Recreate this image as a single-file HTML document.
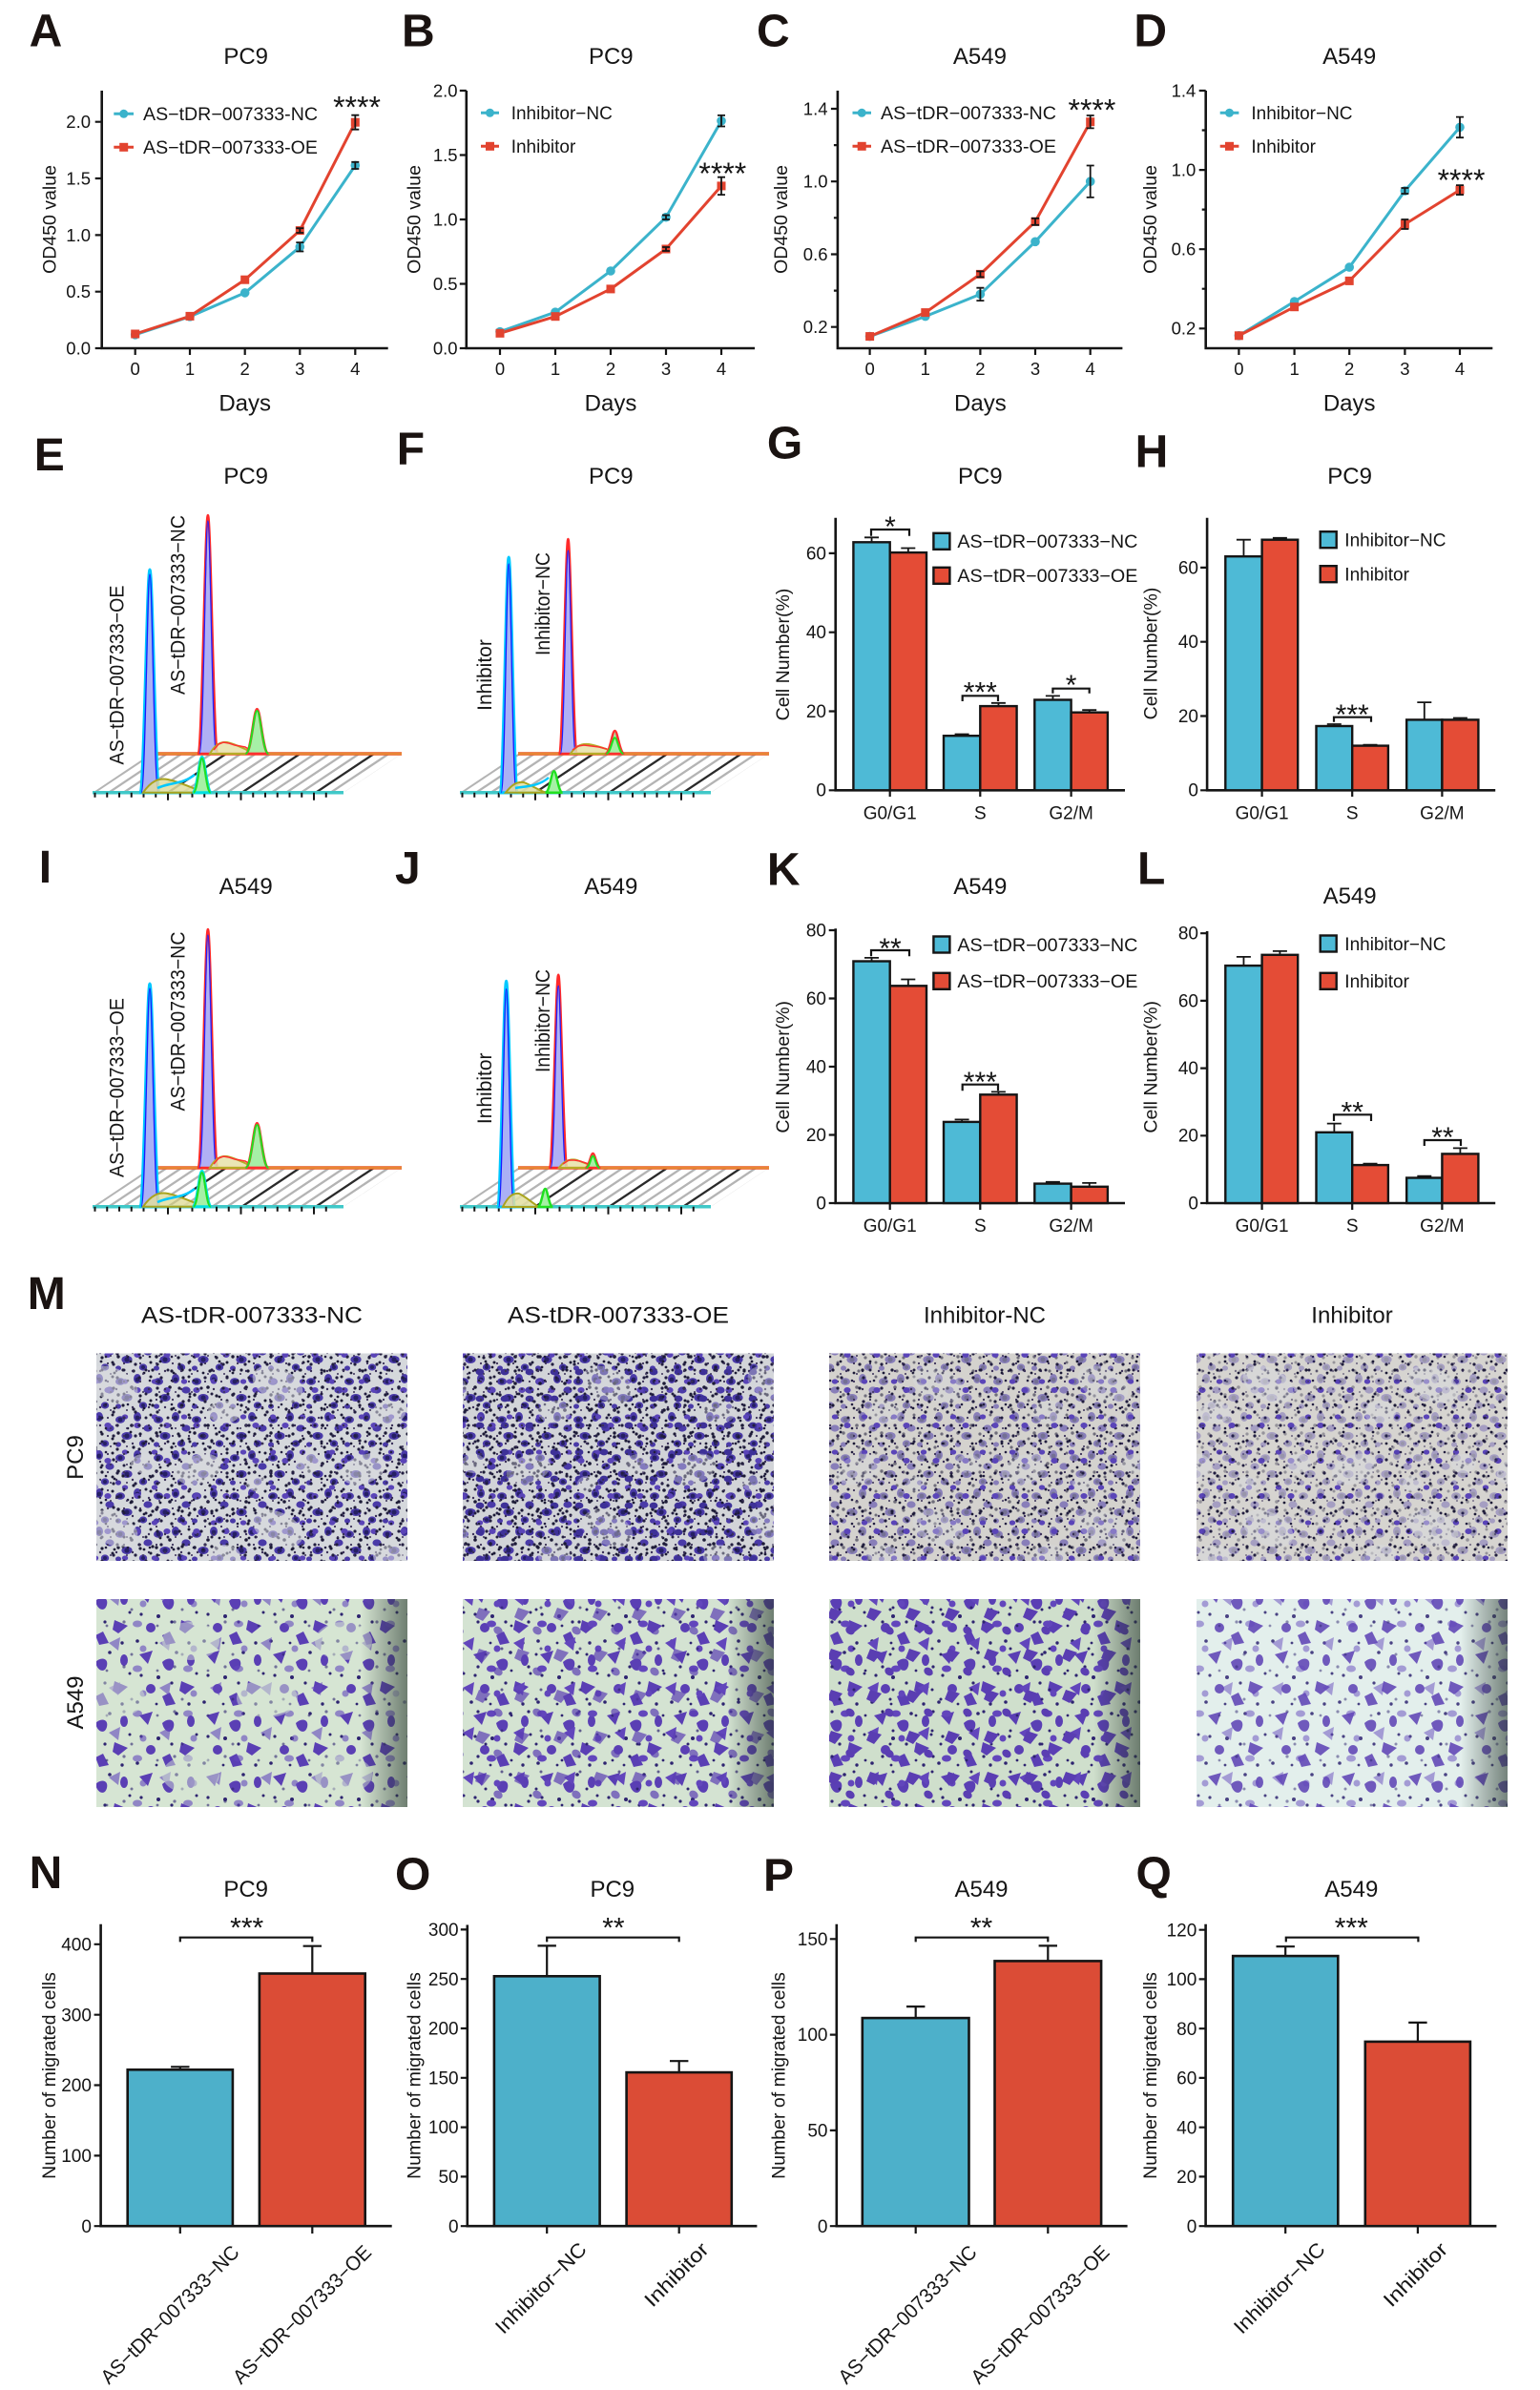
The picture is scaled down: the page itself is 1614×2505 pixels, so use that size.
<!DOCTYPE html>
<html><head><meta charset="utf-8">
<style>
html,body{margin:0;padding:0;background:#fff;}
svg{display:block;}
text{font-family:"Liberation Sans",Arial,sans-serif;fill:#151515;}
.L{font-weight:bold;font-size:48px;fill:#1a1311;}
.T{font-size:24px;}
.k{font-size:18.5px;}
.a{font-size:19.5px;}
.g{font-size:19px;}
.s{font-size:30px;}
.s4{font-size:32px;}
.r{font-size:21px;}
.ax{stroke:#151515;stroke-width:2.6;fill:none;}
.tk{stroke:#151515;stroke-width:2.2;fill:none;}
.eb{stroke:#151515;stroke-width:1.8;fill:none;}
.br{stroke:#151515;stroke-width:2.2;fill:none;}
.cy{fill:#4ebad6;stroke:#151515;stroke-width:2.4;}
.rd{fill:#e44c36;stroke:#151515;stroke-width:2.4;}
.cy2{fill:#4db0ca;stroke:#151515;stroke-width:2.6;}
.rd2{fill:#db4c36;stroke:#151515;stroke-width:2.6;}
.lc{fill:none;stroke:#3bb3cb;stroke-width:3;}
.lr{fill:none;stroke:#e2432f;stroke-width:3;}
</style></head><body>
<svg width="1614" height="2505" viewBox="0 0 1614 2505" xmlns="http://www.w3.org/2000/svg" xmlns:xlink="http://www.w3.org/1999/xlink">
<defs>
<clipPath id="clipE"><polygon points="97,830.7 360,830.7 421,790 158,790"/></clipPath>
<pattern id="p1" width="40" height="40" patternUnits="userSpaceOnUse">
<g fill="#4a3aa8"><ellipse cx="6" cy="8" rx="5" ry="3.8"/><ellipse cx="24" cy="5" rx="4" ry="5"/><ellipse cx="35" cy="17" rx="4.6" ry="3.6"/><ellipse cx="13" cy="25" rx="5.6" ry="4"/><ellipse cx="30" cy="33" rx="4.2" ry="3.6"/><ellipse cx="4" cy="34" rx="3" ry="2.6"/></g>
<g fill="#262064"><circle cx="6" cy="8" r="2.4"/><circle cx="24" cy="6" r="2.4"/><circle cx="13" cy="25" r="2.6"/><circle cx="30" cy="33" r="2"/></g>
<g fill="#1c1a36"><circle cx="18" cy="14" r="1.8"/><circle cx="27" cy="23" r="1.6"/><circle cx="4" cy="22" r="1.7"/><circle cx="38" cy="3" r="1.5"/><circle cx="20" cy="37" r="1.6"/><circle cx="38" cy="28" r="1.5"/></g>
</pattern>
<pattern id="p2" width="31" height="37" patternUnits="userSpaceOnUse">
<g fill="#5a44b8"><ellipse cx="20" cy="14" rx="3.6" ry="3"/><ellipse cx="7" cy="5" rx="3.2" ry="2.6"/></g>
<g fill="#1c1a36"><circle cx="5" cy="30" r="1.6"/><circle cx="27" cy="33" r="1.4"/><circle cx="13" cy="21" r="1.4"/></g>
</pattern>
<pattern id="p3" width="26" height="28" patternUnits="userSpaceOnUse">
<ellipse cx="9" cy="10" rx="4.4" ry="3.4" fill="#3e3198"/><circle cx="20" cy="22" r="1.8" fill="#1c1a36"/><circle cx="22" cy="5" r="1.4" fill="#1c1a36"/>
</pattern>
<pattern id="p4" width="23" height="25" patternUnits="userSpaceOnUse">
<g fill="#221e40"><circle cx="4" cy="5" r="1.6"/><circle cx="15" cy="11" r="1.5"/><circle cx="8" cy="19" r="1.6"/><circle cx="19" cy="22" r="1.3"/></g>
</pattern>
<pattern id="p5" width="17" height="19" patternUnits="userSpaceOnUse">
<g fill="#3a3058"><circle cx="3" cy="12" r="1.2"/><circle cx="11" cy="4" r="1.1"/><circle cx="14" cy="15" r="1"/></g>
</pattern>
<pattern id="cl" width="173" height="151" patternUnits="userSpaceOnUse">
<g fill="#d8dade"><ellipse cx="35" cy="30" rx="24" ry="15" transform="rotate(-20 35 30)"/><ellipse cx="118" cy="92" rx="28" ry="17" transform="rotate(25 118 92)"/><ellipse cx="62" cy="121" rx="17" ry="12"/><ellipse cx="150" cy="24" rx="13" ry="10"/><ellipse cx="96" cy="45" rx="10" ry="8"/></g>
</pattern>
<pattern id="a1" width="70" height="64" patternUnits="userSpaceOnUse">
<g fill="#5a3fb4"><path d="M6,6 L20,2 L15,16 Z"/><path d="M30,14 C36,8 44,10 42,18 C40,26 32,24 30,14Z"/><path d="M50,34 L64,40 L54,48 L48,44Z"/><circle cx="18" cy="42" r="5"/><path d="M30,50 L38,46 L44,58 L34,60Z"/><ellipse cx="60" cy="12" rx="4" ry="6"/></g>
<g fill="#2e2470"><circle cx="45" cy="4" r="1.8"/><circle cx="8" cy="28" r="1.6"/><circle cx="26" cy="30" r="2"/><circle cx="66" cy="26" r="1.5"/><circle cx="40" cy="36" r="1.6"/><circle cx="4" cy="56" r="1.8"/><circle cx="58" cy="58" r="1.7"/><circle cx="24" cy="58" r="1.4"/></g>
</pattern>
<pattern id="a2" width="53" height="47" patternUnits="userSpaceOnUse">
<g fill="#6246bc"><path d="M8,30 L20,24 L18,38 Z"/><ellipse cx="38" cy="10" rx="5" ry="3.5"/><circle cx="44" cy="36" r="3.5"/></g>
<g fill="#2e2470"><circle cx="24" cy="8" r="1.6"/><circle cx="6" cy="12" r="1.4"/><circle cx="32" cy="42" r="1.5"/></g>
</pattern>
<pattern id="a3" width="41" height="43" patternUnits="userSpaceOnUse">
<g fill="#5a3eb2"><path d="M10,8 L22,12 L14,22 L6,18Z"/><ellipse cx="30" cy="32" rx="5" ry="4" transform="rotate(35 30 32)"/></g>
<circle cx="34" cy="8" r="1.5" fill="#2e2470"/>
</pattern>
<pattern id="acl" width="160" height="140" patternUnits="userSpaceOnUse">
<g fill="#d6e5d3"><ellipse cx="40" cy="40" rx="30" ry="20"/><ellipse cx="120" cy="100" rx="32" ry="20"/></g>
</pattern>
<linearGradient id="edge" x1="0" x2="1" y1="0" y2="0"><stop offset="0.85" stop-color="#2a3a30" stop-opacity="0"/><stop offset="1" stop-color="#2a3a30" stop-opacity="0.6"/></linearGradient>

<g id="fb">
 <g clip-path="url(#clipE)">
  <path d="M36.5,830.7l61,-40.7M52,830.7l61,-40.7M67.5,830.7l61,-40.7M83,830.7l61,-40.7M98.5,830.7l61,-40.7M114,830.7l61,-40.7M129.5,830.7l61,-40.7M145,830.7l61,-40.7M160.5,830.7l61,-40.7M191.5,830.7l61,-40.7M207,830.7l61,-40.7M222.5,830.7l61,-40.7M238,830.7l61,-40.7M269,830.7l61,-40.7M284.5,830.7l61,-40.7M300,830.7l61,-40.7M315.5,830.7l61,-40.7M346.5,830.7l61,-40.7M362,830.7l61,-40.7" stroke="#b4b4b4" stroke-width="2.3"/>
  <path d="M176,830.7l61,-40.7M253.5,830.7l61,-40.7M331,830.7l61,-40.7" stroke="#2a2a2a" stroke-width="2.3"/>
 </g>
 <path d="M158,790H421" stroke="#e85a20" stroke-width="3.5"/>
 <path d="M158,790H421" stroke="#e8a040" stroke-width="1.2"/>
 <path d="M97,830.7H360" stroke="#40c8c8" stroke-width="3.5"/>
 <path d="M99.5,830.7v5M112.25,830.7v5M125,830.7v5M137.75,830.7v5M150.5,830.7v5M163.25,830.7v5M176,830.7v8M188.75,830.7v5M201.5,830.7v5M214.25,830.7v5M227,830.7v5M239.75,830.7v5M252.5,830.7v8M265.25,830.7v5M278,830.7v5M290.75,830.7v5M303.5,830.7v5M316.25,830.7v5M329,830.7v8M341.75,830.7v5" stroke="#151515" stroke-width="2"/>
</g>

<g id="eP">
 <path d="M206.9,790C212.4,790 214.6,540 217.9,540C221.2,540 223.4,790 228.9,790Z" fill="#b0b0f5" stroke="#ff2a2a" stroke-width="2.5"/>
 <path d="M208.9,790C213.4,790 215.2,546 217.9,546C220.6,546 222.4,790 226.9,790" fill="none" stroke="#2020ff" stroke-width="1.3"/>
 <path d="M220,790C225,781 231,777 238,778C248,780 258,786 267,790Z" fill="#e6e2a8" fill-opacity="0.85" stroke="#b5ad28" stroke-width="2"/>
 <polyline points="224,786 229,780 234,778 240,779 246,781 252,782 257,783 262,786" fill="none" stroke="#ff3030" stroke-width="1.5"/>
 <path d="M257.4,790C263.4,790 265.8,743.3 269.4,743.3C273,743.3 275.4,790 281.4,790Z" fill="#a6f0a6" stroke="#ff3030" stroke-width="2.8"/>
 <path d="M257.4,790C263.4,790 265.8,745 269.4,745C273,745 275.4,790 281.4,790" fill="none" stroke="#20e020" stroke-width="2"/>
 <path d="M146,830.7C151.5,830.7 153.7,597 157,597C160.3,597 162.5,830.7 168,830.7Z" fill="#aab0f5" stroke="#00c8ff" stroke-width="3"/>
 <path d="M148,830.7C152.5,830.7 154.3,602 157,602C159.7,602 161.5,830.7 166,830.7" fill="none" stroke="#1a1aff" stroke-width="1.3"/>
 <path d="M150,830.7C158,819 166,815 176,817C190,820 204,827 214,830.7Z" fill="#e2dea0" fill-opacity="0.85" stroke="#aaa41e" stroke-width="2"/>
 <path d="M165,826C178,820 192,822 204,812" fill="none" stroke="#00c8ff" stroke-width="2.5"/>
 <path d="M201.7,830.7C206.7,830.7 208.7,793.3 211.7,793.3C214.7,793.3 216.7,830.7 221.7,830.7Z" fill="#a6f0a6" stroke="#00e0e0" stroke-width="3"/>
 <path d="M202.7,830.7C207.2,830.7 209,795 211.7,795C214.4,795 216.2,830.7 220.7,830.7" fill="none" stroke="#20e020" stroke-width="2"/>
</g>
</defs>

<!-- ========== Row 1 ========== -->
<text class="L" x="30.6" y="48.3">A</text>
<text class="L" x="421" y="48.3">B</text>
<text class="L" x="793" y="48.3">C</text>
<text class="L" x="1188.4" y="48.3">D</text>
<text class="T" x="257.7" y="66.9" text-anchor="middle">PC9</text>
<text class="T" x="640.3" y="66.9" text-anchor="middle">PC9</text>
<text class="T" x="1026.9" y="66.9" text-anchor="middle">A549</text>
<text class="T" x="1414.2" y="66.9" text-anchor="middle">A549</text>

<!-- Panel A -->
<path class="ax" d="M106.7,95V365H406.7"/>
<path class="tk" d="M99.7,127.7H106.7M99.7,187H106.7M99.7,246.4H106.7M99.7,305.7H106.7M99.7,365H106.7M141.7,365V372M199,365V372M256.7,365V372M314.3,365V372M372.3,365V372"/>
<g class="k" text-anchor="end"><text x="95" y="134.1">2.0</text><text x="95" y="193.4">1.5</text><text x="95" y="252.8">1.0</text><text x="95" y="312.1">0.5</text><text x="95" y="371.4">0.0</text></g>
<g class="k" text-anchor="middle"><text x="141.7" y="393">0</text><text x="199" y="393">1</text><text x="256.7" y="393">2</text><text x="314.3" y="393">3</text><text x="372.3" y="393">4</text></g>
<text class="T" x="256.7" y="430.3" text-anchor="middle">Days</text>
<text class="a" transform="translate(58.7,230) rotate(-90)" text-anchor="middle">OD450 value</text>
<path d="M119.3,119.3H140" stroke="#3bb3cb" stroke-width="3"/><circle cx="129.7" cy="119.3" r="4.5" fill="#3bb3cb"/>
<text class="g" x="150" y="126.1" textLength="183" lengthAdjust="spacingAndGlyphs">AS−tDR−007333-NC</text>
<path d="M119.3,154.3H140" stroke="#e2432f" stroke-width="3"/><rect x="125.2" y="149.8" width="9" height="9" fill="#e2432f"/>
<text class="g" x="150" y="161.1" textLength="183" lengthAdjust="spacingAndGlyphs">AS−tDR−007333-OE</text>
<polyline class="lc" points="141.7,350.8 199,331.8 256.7,306.9 314.3,258.8 372.3,173.4"/>
<polyline class="lr" points="141.7,350 199,331.4 256.7,293.2 314.3,241.6 372.3,128.2"/>
<g fill="#3bb3cb"><circle cx="141.7" cy="350.8" r="4.8"/><circle cx="199" cy="331.8" r="4.8"/><circle cx="256.7" cy="306.9" r="4.8"/><circle cx="314.3" cy="258.8" r="4.8"/><circle cx="372.3" cy="173.4" r="4.8"/></g>
<g fill="#e2432f"><rect x="137.2" y="345.5" width="9" height="9"/><rect x="194.5" y="326.9" width="9" height="9"/><rect x="252.2" y="288.7" width="9" height="9"/><rect x="309.8" y="237.1" width="9" height="9"/><rect x="367.8" y="123.7" width="9" height="9"/></g>
<path class="eb" d="M314.3,254.1V263.5M310.3,254.1h8M310.3,263.5h8M372.3,169.8V177M368.3,169.8h8M368.3,177h8M372.3,120.7V135.7M368.3,120.7h8M368.3,135.7h8M314.3,239.2V244M310.3,239.2h8M310.3,244h8"/>
<text class="s4" x="374" y="123.3" text-anchor="middle">****</text>

<!-- Panel B -->
<path class="ax" d="M488.8,95V365H791"/>
<path class="tk" d="M481.8,95H488.8M481.8,162.5H488.8M481.8,230H488.8M481.8,297.5H488.8M481.8,365H488.8M524,365V372M582,365V372M640,365V372M698,365V372M756,365V372"/>
<g class="k" text-anchor="end"><text x="479.6" y="101.4">2.0</text><text x="479.6" y="168.9">1.5</text><text x="479.6" y="236.4">1.0</text><text x="479.6" y="303.9">0.5</text><text x="479.6" y="371.4">0.0</text></g>
<g class="k" text-anchor="middle"><text x="524" y="393">0</text><text x="582" y="393">1</text><text x="640" y="393">2</text><text x="698" y="393">3</text><text x="756" y="393">4</text></g>
<text class="T" x="640" y="430.3" text-anchor="middle">Days</text>
<text class="a" transform="translate(440.7,230) rotate(-90)" text-anchor="middle">OD450 value</text>
<path d="M504,118.3H523" stroke="#3bb3cb" stroke-width="3"/><circle cx="513.5" cy="118.3" r="4.5" fill="#3bb3cb"/>
<text class="g" x="535.7" y="125.1">Inhibitor−NC</text>
<path d="M504,153.3H523" stroke="#e2432f" stroke-width="3"/><rect x="509" y="148.8" width="9" height="9" fill="#e2432f"/>
<text class="g" x="535.7" y="160.1">Inhibitor</text>
<polyline class="lc" points="524,347.7 582,327.2 640,284 698,227.7 756,126.7"/>
<polyline class="lr" points="524,349.3 582,331.7 640,302.9 698,261 756,194.9"/>
<g fill="#3bb3cb"><circle cx="524" cy="347.7" r="4.8"/><circle cx="582" cy="327.2" r="4.8"/><circle cx="640" cy="284" r="4.8"/><circle cx="698" cy="227.7" r="4.8"/><circle cx="756" cy="126.7" r="4.8"/></g>
<g fill="#e2432f"><rect x="519.5" y="344.8" width="9" height="9"/><rect x="577.5" y="327.2" width="9" height="9"/><rect x="635.5" y="298.4" width="9" height="9"/><rect x="693.5" y="256.5" width="9" height="9"/><rect x="751.5" y="190.4" width="9" height="9"/></g>
<path class="eb" d="M756,120.9V132.5M752,120.9h8M752,132.5h8M756,185.7V204.1M752,185.7h8M752,204.1h8M698,259V263M694,259h8M694,263h8M698,225.5V230M694,225.5h8M694,230h8"/>
<text class="s4" x="757.3" y="193.2" text-anchor="middle">****</text>

<!-- Panel C -->
<path class="ax" d="M877.9,95V365H1176.4"/>
<path class="tk" d="M870.9,114H877.9M870.9,190.2H877.9M870.9,266.5H877.9M870.9,342.7H877.9M873.9,152.1H877.9M873.9,228.3H877.9M873.9,304.6H877.9M911.6,365V372M969.8,365V372M1027.4,365V372M1085,365V372M1142.7,365V372"/>
<g class="k" text-anchor="end"><text x="867.5" y="120.4">1.4</text><text x="867.5" y="196.6">1.0</text><text x="867.5" y="272.9">0.6</text><text x="867.5" y="349.1">0.2</text></g>
<g class="k" text-anchor="middle"><text x="911.6" y="393">0</text><text x="969.8" y="393">1</text><text x="1027.4" y="393">2</text><text x="1085" y="393">3</text><text x="1142.7" y="393">4</text></g>
<text class="T" x="1027.4" y="430.3" text-anchor="middle">Days</text>
<text class="a" transform="translate(825,230) rotate(-90)" text-anchor="middle">OD450 value</text>
<path d="M893.5,118.3H913" stroke="#3bb3cb" stroke-width="3"/><circle cx="903.2" cy="118.3" r="4.5" fill="#3bb3cb"/>
<text class="g" x="923" y="125.1" textLength="184" lengthAdjust="spacingAndGlyphs">AS−tDR−007333-NC</text>
<path d="M893.5,153.3H913" stroke="#e2432f" stroke-width="3"/><rect x="898.7" y="148.8" width="9" height="9" fill="#e2432f"/>
<text class="g" x="923" y="160.1" textLength="184" lengthAdjust="spacingAndGlyphs">AS−tDR−007333-OE</text>
<polyline class="lc" points="911.6,352.6 969.8,331.6 1027.4,308.4 1085,253.3 1142.7,190.2"/>
<polyline class="lr" points="911.6,352.6 969.8,327.6 1027.4,287.4 1085,232.3 1142.7,127.7"/>
<g fill="#3bb3cb"><circle cx="911.6" cy="352.6" r="4.8"/><circle cx="969.8" cy="331.6" r="4.8"/><circle cx="1027.4" cy="308.4" r="4.8"/><circle cx="1085" cy="253.3" r="4.8"/><circle cx="1142.7" cy="190.2" r="4.8"/></g>
<g fill="#e2432f"><rect x="907.1" y="348.1" width="9" height="9"/><rect x="965.3" y="323.1" width="9" height="9"/><rect x="1022.9" y="282.9" width="9" height="9"/><rect x="1080.5" y="227.8" width="9" height="9"/><rect x="1138.2" y="123.2" width="9" height="9"/></g>
<path class="eb" d="M1142.7,173.5V206.9M1138.7,173.5h8M1138.7,206.9h8M1027.4,301.7V315.1M1023.4,301.7h8M1023.4,315.1h8M1142.7,121V134.4M1138.7,121h8M1138.7,134.4h8M1085,228.8V235.8M1081,228.8h8M1081,235.8h8M1027.4,284.4V290.4M1023.4,284.4h8M1023.4,290.4h8"/>
<text class="s4" x="1144.4" y="126.5" text-anchor="middle">****</text>

<!-- Panel D -->
<path class="ax" d="M1263.7,95V365H1564.3"/>
<path class="tk" d="M1256.7,95H1263.7M1256.7,178.1H1263.7M1256.7,261.2H1263.7M1256.7,344.3H1263.7M1259.7,136.5H1263.7M1259.7,219.6H1263.7M1259.7,302.7H1263.7M1298.4,365V372M1356.6,365V372M1414.2,365V372M1472.4,365V372M1530,365V372"/>
<g class="k" text-anchor="end"><text x="1253.3" y="101.4">1.4</text><text x="1253.3" y="184.5">1.0</text><text x="1253.3" y="267.6">0.6</text><text x="1253.3" y="350.7">0.2</text></g>
<g class="k" text-anchor="middle"><text x="1298.4" y="393">0</text><text x="1356.6" y="393">1</text><text x="1414.2" y="393">2</text><text x="1472.4" y="393">3</text><text x="1530" y="393">4</text></g>
<text class="T" x="1414.2" y="430.3" text-anchor="middle">Days</text>
<text class="a" transform="translate(1212,230) rotate(-90)" text-anchor="middle">OD450 value</text>
<path d="M1278.7,118.3H1298.4" stroke="#3bb3cb" stroke-width="3"/><circle cx="1288.5" cy="118.3" r="4.5" fill="#3bb3cb"/>
<text class="g" x="1311.4" y="125.1">Inhibitor−NC</text>
<path d="M1278.7,153.3H1298.4" stroke="#e2432f" stroke-width="3"/><rect x="1284" y="148.8" width="9" height="9" fill="#e2432f"/>
<text class="g" x="1311.4" y="160.1">Inhibitor</text>
<polyline class="lc" points="1298.4,351.8 1356.6,316 1414.2,280.1 1472.4,200.1 1530,133.4"/>
<polyline class="lr" points="1298.4,351.8 1356.6,321.7 1414.2,294.4 1472.4,235 1530,199.1"/>
<g fill="#3bb3cb"><circle cx="1298.4" cy="351.8" r="4.8"/><circle cx="1356.6" cy="316" r="4.8"/><circle cx="1414.2" cy="280.1" r="4.8"/><circle cx="1472.4" cy="200.1" r="4.8"/><circle cx="1530" cy="133.4" r="4.8"/></g>
<g fill="#e2432f"><rect x="1293.9" y="347.3" width="9" height="9"/><rect x="1352.1" y="317.2" width="9" height="9"/><rect x="1409.7" y="289.9" width="9" height="9"/><rect x="1467.9" y="230.5" width="9" height="9"/><rect x="1525.5" y="194.6" width="9" height="9"/></g>
<path class="eb" d="M1530,122.6V144.2M1526,122.6h8M1526,144.2h8M1472.4,197V203M1468.4,197h8M1468.4,203h8M1530,194.1V204.1M1526,194.1h8M1526,204.1h8M1472.4,230V240M1468.4,230h8M1468.4,240h8"/>
<text class="s4" x="1531.5" y="199.9" text-anchor="middle">****</text>

<!-- ========== Row 2 ========== -->
<text class="L" x="35.7" y="493">E</text>
<text class="L" x="415.8" y="486.7">F</text>
<text class="L" x="803.9" y="480.5">G</text>
<text class="L" x="1189.6" y="489.3">H</text>
<text class="T" x="257.7" y="506.9" text-anchor="middle">PC9</text>
<text class="T" x="640.3" y="506.9" text-anchor="middle">PC9</text>
<text class="T" x="1027.3" y="506.9" text-anchor="middle">PC9</text>
<text class="T" x="1414.6" y="506.9" text-anchor="middle">PC9</text>

<!-- E -->
<use href="#fb" xlink:href="#fb"/>
<use href="#eP" xlink:href="#eP"/>
<text class="r" transform="translate(129.7,707.5) rotate(-90)" text-anchor="middle" textLength="188" lengthAdjust="spacingAndGlyphs">AS−tDR−007333−OE</text>
<text class="r" transform="translate(193.5,634) rotate(-90)" text-anchor="middle" textLength="188" lengthAdjust="spacingAndGlyphs">AS−tDR−007333−NC</text>

<!-- F -->
<use href="#fb" xlink:href="#fb" transform="translate(385,0)"/>
<path d="M585.4,790C590.4,790 592.4,565 595.4,565C598.4,565 600.4,790 605.4,790Z" fill="#b0b0f5" stroke="#ff2a2a" stroke-width="2.5"/>
<path d="M587.4,790C591.4,790 593,577 595.4,577C597.8,577 599.4,790 603.4,790" fill="none" stroke="#2020ff" stroke-width="1.3"/>
<path d="M598,790C603,782 609,779 617,780C629,782 640,787 650,790Z" fill="#e6e2a8" fill-opacity="0.85" stroke="#b5ad28" stroke-width="2"/>
<polyline points="600,786 606,782 612,781 620,782 628,783 636,785" fill="none" stroke="#ff3030" stroke-width="1.5"/>
<path d="M634.4,790C639.4,790 641.4,766 644.4,766C647.4,766 649.4,790 654.4,790Z" fill="#a6f0a6" stroke="#ff3030" stroke-width="2.5"/>
<path d="M635.4,790C639.9,790 641.7,773.3 644.4,773.3C647.1,773.3 648.9,790 653.4,790" fill="none" stroke="#20e020" stroke-width="2"/>
<path d="M523.2,830.7C528.2,830.7 530.2,584 533.2,584C536.2,584 538.2,830.7 543.2,830.7Z" fill="#aab0f5" stroke="#00c8ff" stroke-width="3"/>
<path d="M525.2,830.7C529.2,830.7 530.8,591 533.2,591C535.6,591 537.2,830.7 541.2,830.7" fill="none" stroke="#1a1aff" stroke-width="1.3"/>
<path d="M530,830.7C536,823 541,819 549,820C557,823 564,828 572,830.7Z" fill="#e2dea0" fill-opacity="0.85" stroke="#aaa41e" stroke-width="2"/>
<path d="M540,826C552,824 565,824 575,815" fill="none" stroke="#00c8ff" stroke-width="2.5"/>
<path d="M571.6,830.7C576.1,830.7 577.9,808.3 580.6,808.3C583.3,808.3 585.1,830.7 589.6,830.7Z" fill="#a6f0a6" stroke="#20e020" stroke-width="2.5"/>
<text class="r" transform="translate(515,707.5) rotate(-90)" text-anchor="middle">Inhibitor</text>
<text class="r" transform="translate(576.2,633) rotate(-90)" text-anchor="middle" textLength="108" lengthAdjust="spacingAndGlyphs">Inhibitor−NC</text>

<!-- G -->
<path class="ax" d="M875.7,542.7V828.3H1179"/>
<path class="tk" d="M868.7,579.9H875.7M868.7,662.7H875.7M868.7,745.5H875.7M868.7,828.3H875.7M932.7,828.3V835M1027.3,828.3V835M1122.6,828.3V835"/>
<g class="g" text-anchor="end"><text x="866" y="586.3">60</text><text x="866" y="669.1">40</text><text x="866" y="751.9">20</text><text x="866" y="834.7">0</text></g>
<rect class="cy" x="894.4" y="568.3" width="38.3" height="260"/>
<rect class="rd" x="932.7" y="579.1" width="38.3" height="249.2"/>
<rect class="cy" x="989" y="771.2" width="38.3" height="57.1"/>
<rect class="rd" x="1027.3" y="740.1" width="38.3" height="88.2"/>
<rect class="cy" x="1084.3" y="733.5" width="38.3" height="94.8"/>
<rect class="rd" x="1122.6" y="746.7" width="38.3" height="81.6"/>
<path class="eb" d="M913.55,568.3V563.3M906,563.3h15M951.85,579.1V574.5M944.3,574.5h15M1008.15,771.2V769.5M1000.6,769.5h15M1046.45,740.1V736.8M1038.9,736.8h15M1103.45,733.5V729.4M1095.9,729.4h15M1141.75,746.7V744.2M1134.2,744.2h15"/>
<path class="br" d="M913,561.7V555H953V561.7M1008.7,735V729.3H1046V735M1103.4,726.7V721.7H1141.7V726.7"/>
<text class="s" x="933" y="562" text-anchor="middle">*</text>
<text class="s" x="1027.3" y="735.4" text-anchor="middle">***</text>
<text class="s" x="1122.6" y="727.8" text-anchor="middle">*</text>
<rect class="cy" x="978.4" y="558.8" width="17" height="17"/>
<rect class="rd" x="978.4" y="594.8" width="17" height="17"/>
<text class="g" x="1003.4" y="574.1" textLength="189" lengthAdjust="spacingAndGlyphs">AS−tDR−007333−NC</text>
<text class="g" x="1003.4" y="610.1" textLength="189" lengthAdjust="spacingAndGlyphs">AS−tDR−007333−OE</text>
<text class="a" transform="translate(826.9,686) rotate(-90)" text-anchor="middle">Cell Number(%)</text>
<g class="g" text-anchor="middle"><text x="932.7" y="858.5">G0/G1</text><text x="1027.3" y="858.5">S</text><text x="1122.6" y="858.5">G2/M</text></g>

<!-- H -->
<path class="ax" d="M1265.1,542.7V828.3H1567.2"/>
<path class="tk" d="M1258.1,594.9H1265.1M1258.1,672.7H1265.1M1258.1,750.5H1265.1M1258.1,828.3H1265.1M1322.6,828.3V835M1417.2,828.3V835M1511.4,828.3V835"/>
<g class="g" text-anchor="end"><text x="1256" y="601.3">60</text><text x="1256" y="679.1">40</text><text x="1256" y="756.9">20</text><text x="1256" y="834.7">0</text></g>
<rect class="cy" x="1284.3" y="583.2" width="38.3" height="245.1"/>
<rect class="rd" x="1322.6" y="565.7" width="37.6" height="262.6"/>
<rect class="cy" x="1379.5" y="761" width="37.7" height="67.3"/>
<rect class="rd" x="1417.2" y="781.6" width="37.7" height="46.7"/>
<rect class="cy" x="1474.2" y="754.4" width="37.2" height="73.9"/>
<rect class="rd" x="1511.4" y="754.4" width="38" height="73.9"/>
<path class="eb" d="M1303.45,583.2V565.7M1295.9,565.7h15M1341.4,565.7V563.8M1333.9,563.8h15M1398.35,761V759M1390.8,759h15M1436,781.6V780.6M1428.5,780.6h15M1492.8,754.4V736.1M1485.3,736.1h15M1530.4,754.4V752.5M1522.9,752.5h15"/>
<path class="br" d="M1398,756.7V751.7H1437V756.7"/>
<text class="s" x="1417.2" y="758.8" text-anchor="middle">***</text>
<rect class="cy" x="1383.7" y="557.2" width="17" height="17"/>
<rect class="rd" x="1383.7" y="593.2" width="17" height="17"/>
<text class="g" x="1409.3" y="572.5">Inhibitor−NC</text>
<text class="g" x="1409.3" y="608.5">Inhibitor</text>
<text class="a" transform="translate(1212.5,685) rotate(-90)" text-anchor="middle">Cell Number(%)</text>
<g class="g" text-anchor="middle"><text x="1322.6" y="858.5">G0/G1</text><text x="1417.2" y="858.5">S</text><text x="1511.4" y="858.5">G2/M</text></g>

<!-- ========== Row 3 ========== -->
<text class="L" x="40.8" y="925">I</text>
<text class="L" x="414" y="926">J</text>
<text class="L" x="803.9" y="927.3">K</text>
<text class="L" x="1192" y="926.7">L</text>
<text class="T" x="257.7" y="936.9" text-anchor="middle">A549</text>
<text class="T" x="640.3" y="936.9" text-anchor="middle">A549</text>
<text class="T" x="1027.3" y="936.9" text-anchor="middle">A549</text>
<text class="T" x="1414.6" y="946.9" text-anchor="middle">A549</text>

<!-- I -->
<use href="#fb" xlink:href="#fb" transform="translate(0,434)"/>
<use href="#eP" xlink:href="#eP" transform="translate(0,434)"/>
<text class="r" transform="translate(129.7,1140) rotate(-90)" text-anchor="middle" textLength="188" lengthAdjust="spacingAndGlyphs">AS−tDR−007333−OE</text>
<text class="r" transform="translate(193.5,1070.5) rotate(-90)" text-anchor="middle" textLength="188" lengthAdjust="spacingAndGlyphs">AS−tDR−007333−NC</text>

<!-- J -->
<use href="#fb" xlink:href="#fb" transform="translate(385,434)"/>
<path d="M575.2,1224C580.2,1224 582.2,1021.7 585.2,1021.7C588.2,1021.7 590.2,1224 595.2,1224Z" fill="#b0b0f5" stroke="#ff2a2a" stroke-width="2.5"/>
<path d="M577.2,1224C581.2,1224 582.8,1033.3 585.2,1033.3C587.6,1033.3 589.2,1224 593.2,1224" fill="none" stroke="#2020ff" stroke-width="1.3"/>
<path d="M586,1224C591,1217 597,1214 605,1216C613,1219 620,1222 627,1224Z" fill="#e6e2a8" fill-opacity="0.85" stroke="#b5ad28" stroke-width="2"/>
<polyline points="590,1220 596,1216 602,1216 608,1217 614,1219 620,1221" fill="none" stroke="#ff3030" stroke-width="1.5"/>
<path d="M613.4,1224C617.4,1224 619,1209 621.4,1209C623.8,1209 625.4,1224 629.4,1224Z" fill="#a6f0a6" stroke="#ff3030" stroke-width="2.5"/>
<path d="M614.4,1224C617.9,1224 619.3,1211.7 621.4,1211.7C623.5,1211.7 624.9,1224 628.4,1224" fill="none" stroke="#20e020" stroke-width="2"/>
<path d="M520.6,1265C525.6,1265 527.6,1028.3 530.6,1028.3C533.6,1028.3 535.6,1265 540.6,1265Z" fill="#aab0f5" stroke="#00c8ff" stroke-width="3"/>
<path d="M522.6,1265C526.6,1265 528.2,1036.7 530.6,1036.7C533,1036.7 534.6,1265 538.6,1265" fill="none" stroke="#1a1aff" stroke-width="1.3"/>
<path d="M527,1265C532,1255 537,1250 544,1251C552,1255 558,1261 565,1265Z" fill="#e2dea0" fill-opacity="0.85" stroke="#aaa41e" stroke-width="2"/>
<path d="M563.4,1265C567.4,1265 569,1246 571.4,1246C573.8,1246 575.4,1265 579.4,1265Z" fill="#a6f0a6" stroke="#20e020" stroke-width="2.5"/>
<text class="r" transform="translate(515,1140.8) rotate(-90)" text-anchor="middle">Inhibitor</text>
<text class="r" transform="translate(576.2,1070) rotate(-90)" text-anchor="middle" textLength="108" lengthAdjust="spacingAndGlyphs">Inhibitor−NC</text>

<!-- K -->
<path class="ax" d="M875.7,973.3V1261H1179"/>
<path class="tk" d="M868.7,975H875.7M868.7,1046.5H875.7M868.7,1118H875.7M868.7,1189.5H875.7M868.7,1261H875.7M932.7,1261V1268M1027.3,1261V1268M1122.6,1261V1268"/>
<g class="g" text-anchor="end"><text x="866" y="981.4">80</text><text x="866" y="1052.9">60</text><text x="866" y="1124.4">40</text><text x="866" y="1195.9">20</text><text x="866" y="1267.4">0</text></g>
<rect class="cy" x="894.4" y="1007.5" width="38.3" height="253.5"/>
<rect class="rd" x="932.7" y="1033.3" width="38.3" height="227.7"/>
<rect class="cy" x="989" y="1175.9" width="38.3" height="85.1"/>
<rect class="rd" x="1027.3" y="1147.3" width="38.3" height="113.7"/>
<rect class="cy" x="1084.3" y="1240.6" width="38.3" height="20.4"/>
<rect class="rd" x="1122.6" y="1243.8" width="38.3" height="17.2"/>
<path class="eb" d="M913.55,1007.5V1003.9M906,1003.9h15M951.85,1033.3V1026.5M944.3,1026.5h15M1008.15,1175.9V1173.4M1000.6,1173.4h15M1046.45,1147.3V1144.4M1038.9,1144.4h15M1103.45,1240.6V1238.8M1095.9,1238.8h15M1141.75,1243.8V1239.9M1134.2,1239.9h15"/>
<path class="br" d="M913,1002.3V996H953V1002.3M1008.7,1143.3V1136.7H1046V1143.3"/>
<text class="s" x="933" y="1003.8" text-anchor="middle">**</text>
<text class="s" x="1027.3" y="1143.8" text-anchor="middle">***</text>
<rect class="cy" x="978.4" y="981.5" width="17" height="17"/>
<rect class="rd" x="978.4" y="1019.8" width="17" height="17"/>
<text class="g" x="1003.4" y="996.8" textLength="189" lengthAdjust="spacingAndGlyphs">AS−tDR−007333−NC</text>
<text class="g" x="1003.4" y="1035.1" textLength="189" lengthAdjust="spacingAndGlyphs">AS−tDR−007333−OE</text>
<text class="a" transform="translate(826.9,1118.3) rotate(-90)" text-anchor="middle">Cell Number(%)</text>
<g class="g" text-anchor="middle"><text x="932.7" y="1291">G0/G1</text><text x="1027.3" y="1291">S</text><text x="1122.6" y="1291">G2/M</text></g>

<!-- L -->
<path class="ax" d="M1265.1,976V1261H1567.2"/>
<path class="tk" d="M1258.1,978.2H1265.1M1258.1,1048.9H1265.1M1258.1,1119.6H1265.1M1258.1,1190.3H1265.1M1258.1,1261H1265.1M1322.6,1261V1268M1417.2,1261V1268M1511.4,1261V1268"/>
<g class="g" text-anchor="end"><text x="1256" y="984.6">80</text><text x="1256" y="1055.3">60</text><text x="1256" y="1126">40</text><text x="1256" y="1196.7">20</text><text x="1256" y="1267.4">0</text></g>
<rect class="cy" x="1284.3" y="1012.1" width="38.3" height="248.9"/>
<rect class="rd" x="1322.6" y="1000.8" width="37.6" height="260.2"/>
<rect class="cy" x="1379.5" y="1186.8" width="37.7" height="74.2"/>
<rect class="rd" x="1417.2" y="1221.1" width="37.7" height="39.9"/>
<rect class="cy" x="1474.2" y="1234.5" width="37.2" height="26.5"/>
<rect class="rd" x="1511.4" y="1209.4" width="38" height="51.6"/>
<path class="eb" d="M1303.45,1012.1V1002.9M1295.9,1002.9h15M1341.4,1000.8V996.9M1333.9,996.9h15M1398.35,1186.8V1177.6M1390.8,1177.6h15M1436,1221.1V1219.7M1428.5,1219.7h15M1492.8,1234.5V1232.7M1485.3,1232.7h15M1530.4,1209.4V1203.4M1522.9,1203.4h15"/>
<path class="br" d="M1398,1175V1168.3H1437V1175M1492.8,1201V1195H1531V1201"/>
<text class="s" x="1417.2" y="1175.4" text-anchor="middle">**</text>
<text class="s" x="1511.9" y="1202" text-anchor="middle">**</text>
<rect class="cy" x="1383.7" y="980.5" width="17" height="17"/>
<rect class="rd" x="1383.7" y="1019.8" width="17" height="17"/>
<text class="g" x="1409.3" y="995.8">Inhibitor−NC</text>
<text class="g" x="1409.3" y="1035.1">Inhibitor</text>
<text class="a" transform="translate(1212.5,1118.3) rotate(-90)" text-anchor="middle">Cell Number(%)</text>
<g class="g" text-anchor="middle"><text x="1322.6" y="1291">G0/G1</text><text x="1417.2" y="1291">S</text><text x="1511.4" y="1291">G2/M</text></g>

<!-- ========== M ========== -->
<text class="L" x="28.8" y="1372">M</text>
<text class="T" x="264" y="1386.3" text-anchor="middle" textLength="232" lengthAdjust="spacingAndGlyphs">AS-tDR-007333-NC</text>
<text class="T" x="648" y="1386.3" text-anchor="middle" textLength="232" lengthAdjust="spacingAndGlyphs">AS-tDR-007333-OE</text>
<text class="T" x="1032" y="1386.3" text-anchor="middle">Inhibitor-NC</text>
<text class="T" x="1417" y="1386.3" text-anchor="middle">Inhibitor</text>
<text class="T" transform="translate(87.1,1527.5) rotate(-90)" text-anchor="middle">PC9</text>
<text class="T" transform="translate(87.1,1784.5) rotate(-90)" text-anchor="middle">A549</text>

<!-- PC9 images -->
<rect x="101" y="1418.5" width="326" height="217.5" fill="#d5d8dc"/>
<rect x="101" y="1418.5" width="326" height="217.5" fill="url(#p1)"/>
<rect x="101" y="1418.5" width="326" height="217.5" fill="url(#p2)"/>
<rect x="101" y="1418.5" width="326" height="217.5" fill="url(#p4)"/>
<rect x="101" y="1418.5" width="326" height="217.5" fill="url(#p5)"/>
<rect x="101" y="1418.5" width="326" height="217.5" fill="url(#cl)" opacity="0.55"/>
<rect x="485" y="1418.5" width="326" height="217.5" fill="#d2d4d8"/>
<rect x="485" y="1418.5" width="326" height="217.5" fill="url(#p1)"/>
<rect x="485" y="1418.5" width="326" height="217.5" fill="url(#p2)"/>
<rect x="485" y="1418.5" width="326" height="217.5" fill="url(#p3)"/>
<rect x="485" y="1418.5" width="326" height="217.5" fill="url(#p4)"/>
<rect x="485" y="1418.5" width="326" height="217.5" fill="url(#p5)"/>
<rect x="485" y="1418.5" width="326" height="217.5" fill="url(#cl)" opacity="0.4"/>
<rect x="869" y="1418.5" width="326" height="217.5" fill="#d4d2ce"/>
<rect x="869" y="1418.5" width="326" height="217.5" fill="url(#p1)" opacity="0.55"/>
<rect x="869" y="1418.5" width="326" height="217.5" fill="url(#p4)"/>
<rect x="869" y="1418.5" width="326" height="217.5" fill="url(#p5)"/>
<rect x="869" y="1418.5" width="326" height="217.5" fill="url(#p2)"/>
<rect x="869" y="1418.5" width="326" height="217.5" fill="url(#cl)" opacity="0.35"/>
<rect x="1254" y="1418.5" width="326" height="217.5" fill="#d6d4d0"/>
<rect x="1254" y="1418.5" width="326" height="217.5" fill="url(#p2)"/>
<rect x="1254" y="1418.5" width="326" height="217.5" fill="url(#p4)"/>
<rect x="1254" y="1418.5" width="326" height="217.5" fill="url(#p5)" opacity="0.6"/>
<rect x="1254" y="1418.5" width="326" height="217.5" fill="url(#p1)" opacity="0.35"/>
<rect x="1254" y="1418.5" width="326" height="217.5" fill="url(#cl)" opacity="0.5"/>

<!-- A549 images -->
<rect x="101" y="1676" width="326" height="218" fill="#d6e5d3"/>
<rect x="101" y="1676" width="326" height="218" fill="url(#a1)"/>
<rect x="101" y="1676" width="326" height="218" fill="url(#a2)" opacity="0.6"/>
<rect x="101" y="1676" width="326" height="218" fill="url(#acl)" opacity="0.5"/>
<rect x="101" y="1676" width="326" height="218" fill="url(#edge)"/>
<rect x="485" y="1676" width="326" height="218" fill="#d4e3d2"/>
<rect x="485" y="1676" width="326" height="218" fill="url(#a1)"/>
<rect x="485" y="1676" width="326" height="218" fill="url(#a2)"/>
<rect x="485" y="1676" width="326" height="218" fill="url(#a3)" opacity="0.7"/>
<rect x="485" y="1676" width="326" height="218" fill="url(#edge)"/>
<rect x="869" y="1676" width="326" height="218" fill="#cfdfcc"/>
<rect x="869" y="1676" width="326" height="218" fill="url(#a1)"/>
<rect x="869" y="1676" width="326" height="218" fill="url(#a2)"/>
<rect x="869" y="1676" width="326" height="218" fill="url(#a3)"/>
<rect x="869" y="1676" width="326" height="218" fill="url(#edge)"/>
<rect x="1254" y="1676" width="326" height="218" fill="#e3efec"/>
<rect x="1254" y="1676" width="326" height="218" fill="url(#a1)" opacity="0.85"/>
<rect x="1254" y="1676" width="326" height="218" fill="url(#a2)" opacity="0.5"/>
<rect x="1254" y="1676" width="326" height="218" fill="url(#edge)"/>

<!-- ========== Row 5 ========== -->
<text class="L" x="30.6" y="1979">N</text>
<text class="L" x="414" y="1980.5">O</text>
<text class="L" x="800" y="1981.6">P</text>
<text class="L" x="1190.5" y="1980">Q</text>
<text class="T" x="257.7" y="1988.2" text-anchor="middle">PC9</text>
<text class="T" x="641.8" y="1988.2" text-anchor="middle">PC9</text>
<text class="T" x="1028.5" y="1988.2" text-anchor="middle">A549</text>
<text class="T" x="1416.3" y="1988.2" text-anchor="middle">A549</text>

<!-- N -->
<path class="ax" d="M105.6,2016.7V2333.2H410.7"/>
<path class="tk" d="M98.6,2333.2H105.6M98.6,2259.4H105.6M98.6,2185.5H105.6M98.6,2111.7H105.6M98.6,2037.8H105.6M188.8,2333.2V2341M327.3,2333.2V2341"/>
<g class="g" text-anchor="end"><text x="95.9" y="2339.8">0</text><text x="95.9" y="2266">100</text><text x="95.9" y="2192.1">200</text><text x="95.9" y="2118.3">300</text><text x="95.9" y="2044.4">400</text></g>
<rect class="cy2" x="133.7" y="2169.3" width="110.2" height="163.9"/>
<rect class="rd2" x="271.9" y="2068.5" width="110.8" height="264.7"/>
<path class="eb" d="M188.8,2169.3V2166.3M179.1,2166.3h19.4M327.3,2068.5V2039.7M317.6,2039.7h19.4" style="stroke-width:2.2"/>
<path class="br" d="M188.8,2035.4V2030.7H327.3V2035.4"/>
<text class="s" x="258.7" y="2030.6" text-anchor="middle">***</text>
<text class="a" transform="translate(58,2175.5) rotate(-90)" text-anchor="middle">Number of migrated cells</text>
<text class="r" transform="translate(252,2362) rotate(-45)" text-anchor="end" textLength="195" lengthAdjust="spacingAndGlyphs">AS−tDR−007333−NC</text>
<text class="r" transform="translate(390.5,2362) rotate(-45)" text-anchor="end" textLength="195" lengthAdjust="spacingAndGlyphs">AS−tDR−007333−OE</text>

<!-- O -->
<path class="ax" d="M489.8,2017.5V2333.2H793.4"/>
<path class="tk" d="M482.8,2333.2H489.8M482.8,2281.4H489.8M482.8,2229.6H489.8M482.8,2177.8H489.8M482.8,2126H489.8M482.8,2074.2H489.8M482.8,2022.4H489.8M573.2,2333.2V2341M711.7,2333.2V2341"/>
<g class="g" text-anchor="end"><text x="480.6" y="2339.8">0</text><text x="480.6" y="2288">50</text><text x="480.6" y="2236.2">100</text><text x="480.6" y="2184.4">150</text><text x="480.6" y="2132.6">200</text><text x="480.6" y="2080.8">250</text><text x="480.6" y="2029">300</text></g>
<rect class="cy2" x="517.9" y="2071.3" width="110.7" height="261.9"/>
<rect class="rd2" x="656.6" y="2172.1" width="110.2" height="161.1"/>
<path class="eb" d="M573.2,2071.3V2039.4M563.5,2039.4h19.4M711.7,2172.1V2160.2M702,2160.2h19.4" style="stroke-width:2.2"/>
<path class="br" d="M573.2,2035.4V2030.7H711.7V2035.4"/>
<text class="s" x="642.9" y="2030.6" text-anchor="middle">**</text>
<text class="a" transform="translate(440.7,2175.5) rotate(-90)" text-anchor="middle">Number of migrated cells</text>
<text class="r" transform="translate(616,2359) rotate(-45)" text-anchor="end" textLength="125" lengthAdjust="spacingAndGlyphs">Inhibitor−NC</text>
<text class="r" transform="translate(744,2359) rotate(-45)" text-anchor="end" textLength="85" lengthAdjust="spacingAndGlyphs">Inhibitor</text>

<!-- P -->
<path class="ax" d="M876.8,2016.7V2333.2H1181.6"/>
<path class="tk" d="M869.8,2333.2H876.8M869.8,2232.9H876.8M869.8,2132.6H876.8M869.8,2032.3H876.8M959.7,2333.2V2341M1098.3,2333.2V2341"/>
<g class="g" text-anchor="end"><text x="867.5" y="2339.8">0</text><text x="867.5" y="2239.5">50</text><text x="867.5" y="2139.2">100</text><text x="867.5" y="2038.9">150</text></g>
<rect class="cy2" x="903.8" y="2115.1" width="111.7" height="218.1"/>
<rect class="rd2" x="1042.5" y="2055.4" width="111.6" height="277.8"/>
<path class="eb" d="M959.7,2115.1V2103.1M950,2103.1h19.4M1098.3,2055.4V2039.4M1088.6,2039.4h19.4" style="stroke-width:2.2"/>
<path class="br" d="M959.7,2035.4V2030.7H1098.3V2035.4"/>
<text class="s" x="1028.5" y="2030.6" text-anchor="middle">**</text>
<text class="a" transform="translate(822.6,2175.5) rotate(-90)" text-anchor="middle">Number of migrated cells</text>
<text class="r" transform="translate(1025,2362) rotate(-45)" text-anchor="end" textLength="195" lengthAdjust="spacingAndGlyphs">AS−tDR−007333−NC</text>
<text class="r" transform="translate(1164,2362) rotate(-45)" text-anchor="end" textLength="195" lengthAdjust="spacingAndGlyphs">AS−tDR−007333−OE</text>

<!-- Q -->
<path class="ax" d="M1263.6,2016.7V2333.2H1568.4"/>
<path class="tk" d="M1256.6,2333.2H1263.6M1256.6,2281.4H1263.6M1256.6,2229.7H1263.6M1256.6,2177.9H1263.6M1256.6,2126.2H1263.6M1256.6,2074.4H1263.6M1256.6,2022.7H1263.6M1347.2,2333.2V2341M1485.9,2333.2V2341"/>
<g class="g" text-anchor="end"><text x="1254.3" y="2339.8">0</text><text x="1254.3" y="2288">20</text><text x="1254.3" y="2236.3">40</text><text x="1254.3" y="2184.5">60</text><text x="1254.3" y="2132.8">80</text><text x="1254.3" y="2081">100</text><text x="1254.3" y="2029.3">120</text></g>
<rect class="cy2" x="1292.2" y="2050.1" width="110.1" height="283.1"/>
<rect class="rd2" x="1430.8" y="2139.9" width="110.1" height="193.3"/>
<path class="eb" d="M1347.2,2050.1V2040.2M1337.5,2040.2h19.4M1485.9,2139.9V2119.9M1476.2,2119.9h19.4" style="stroke-width:2.2"/>
<path class="br" d="M1347.8,2035.4V2030.7H1486.4V2035.4"/>
<text class="s" x="1416.3" y="2030.6" text-anchor="middle">***</text>
<text class="a" transform="translate(1212,2175.5) rotate(-90)" text-anchor="middle">Number of migrated cells</text>
<text class="r" transform="translate(1390,2359) rotate(-45)" text-anchor="end" textLength="125" lengthAdjust="spacingAndGlyphs">Inhibitor−NC</text>
<text class="r" transform="translate(1518.5,2359) rotate(-45)" text-anchor="end" textLength="85" lengthAdjust="spacingAndGlyphs">Inhibitor</text>
</svg>
</body></html>
